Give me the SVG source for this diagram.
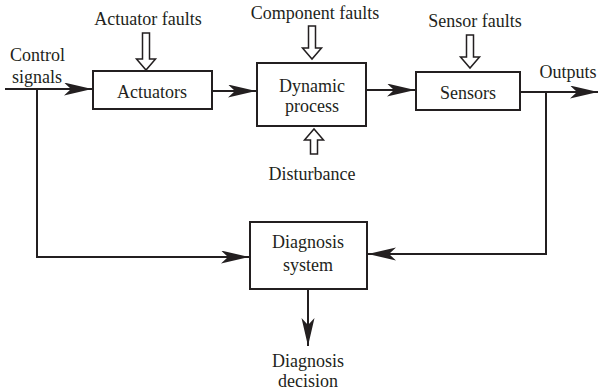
<svg xmlns="http://www.w3.org/2000/svg" width="600" height="390" viewBox="0 0 600 390">
<defs>
<style>
text{font-family:"Liberation Serif","Times New Roman",serif;font-size:18px;fill:#231f20}
.c{text-anchor:middle}
.box{fill:#fff;stroke:#231f20;stroke-width:2}
.ln{fill:none;stroke:#231f20;stroke-width:2}
.ha{fill:#fff;stroke:#231f20;stroke-width:1.5}
</style>
<marker id="ah" markerUnits="userSpaceOnUse" markerWidth="30" markerHeight="14" refX="28" refY="6.5" orient="auto">
<path d="M0,0 L28,6.5 L0,13 L7,6.5 Z" fill="#231f20"/>
</marker>
</defs>
<g id="connectors">
<path class="ln" d="M5,89 H92" marker-end="url(#ah)"/>
<path class="ln" d="M37,89 V257 H249" marker-end="url(#ah)"/>
<path class="ln" d="M212,91 H256" marker-end="url(#ah)"/>
<path class="ln" d="M366,90 H415" marker-end="url(#ah)"/>
<path class="ln" d="M520,92 H598" marker-end="url(#ah)"/>
<path class="ln" d="M546,92 V254 H368" marker-end="url(#ah)"/>
<path class="ln" d="M308,289 V346" marker-end="url(#ah)"/>
</g>
<g id="actuator-faults">
<text class="c" x="148" y="25">Actuator faults</text>
<path class="ha" d="M142.5,33 H149.5 V59 H155.5 L146,70 L136.5,59 H142.5 Z"/>
</g>
<g id="component-faults">
<text class="c" x="315" y="19">Component faults</text>
<path class="ha" d="M308.5,26 H315.5 V48 H321.5 L312,59 L302.5,48 H308.5 Z"/>
</g>
<g id="sensor-faults">
<text class="c" x="475" y="27">Sensor faults</text>
<path class="ha" d="M466.5,35 H473.5 V57 H479.5 L470,68 L460.5,57 H466.5 Z"/>
</g>
<g id="disturbance">
<text class="c" x="312" y="180">Disturbance</text>
<path class="ha" d="M310.5,154 H317.5 V140 H323.5 L314,129 L304.5,140 H310.5 Z"/>
</g>
<g id="control-signals">
<text x="10" y="61">Control</text>
<text x="12" y="83">signals</text>
</g>
<g id="actuators">
<rect class="box" x="93" y="71" width="119" height="38"/>
<text class="c" x="152" y="98">Actuators</text>
</g>
<g id="dynamic-process">
<rect class="box" x="257" y="63" width="109" height="63"/>
<text class="c" x="312" y="92">Dynamic</text>
<text class="c" x="312" y="112">process</text>
</g>
<g id="sensors">
<rect class="box" x="416" y="72" width="104" height="38"/>
<text class="c" x="468" y="99">Sensors</text>
</g>
<g id="outputs">
<text class="c" x="568" y="78">Outputs</text>
</g>
<g id="diagnosis-system">
<rect class="box" x="250" y="222" width="117" height="67"/>
<text class="c" x="308" y="248">Diagnosis</text>
<text class="c" x="308" y="271">system</text>
</g>
<g id="diagnosis-decision">
<text class="c" x="308" y="367">Diagnosis</text>
<text class="c" x="308" y="387">decision</text>
</g>
</svg>
